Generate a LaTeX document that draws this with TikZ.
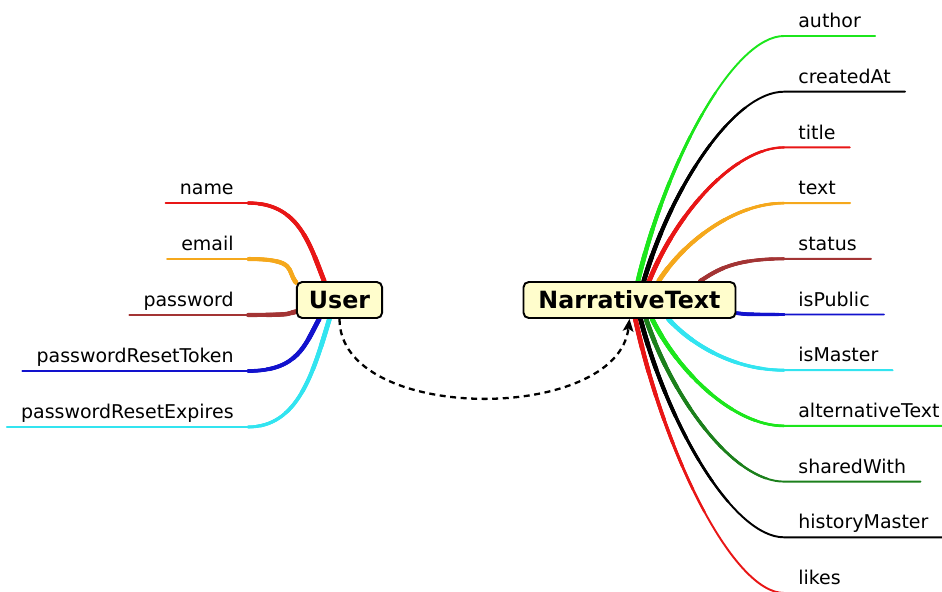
\documentclass[tikz,border=0pt]{standalone}
\usepackage{fontspec}
\setmainfont{DejaVu Sans}
\usetikzlibrary{arrows.meta,backgrounds,calc,positioning}
\definecolor{topicfill}{RGB}{255,253,204}
\definecolor{twigred}{RGB}{232,22,22}
\definecolor{twigorange}{RGB}{245,168,28}
\definecolor{twigbrown}{RGB}{163,52,52}
\definecolor{twigblue}{RGB}{18,18,205}
\definecolor{twigcyan}{RGB}{50,228,240}
\definecolor{twiggreen}{RGB}{28,230,28}
\definecolor{twigdkgreen}{RGB}{28,128,28}
\tikzset{
  topic/.style={draw=black,line width=1.1pt,fill=topicfill,rounded corners=3pt,
    font=\fontsize{13.5}{16}\selectfont\bfseries,inner xsep=0.3cm,minimum height=0.72cm},
  field/.style={font=\fontsize{10.8}{13}\selectfont,inner xsep=0.28cm,inner ysep=0pt,text depth=0.16cm},
  twig/.style={line width=1.1pt,line cap=round},
}
\begin{document}
\begin{tikzpicture}[x=0.02cm,y=-0.02cm,>=Stealth]
  \useasboundingbox (0,0) rectangle (942,591);

  % the two classes
  \node[topic,inner xsep=0.24cm] (user) at (339.5,300) {User};
  \node[topic] (narr) at (629.5,300) {NarrativeText};

  % fields of User (name/colour/where the twig leaves the box)
  \foreach \fname/\fcol/\ang [count=\i from 0] in {name/twigred/129,email/twigorange/158,
      password/twigbrown/195,passwordResetToken/twigblue/223,passwordResetExpires/twigcyan/242} {
    \pgfmathsetmacro{\fy}{203+56*\i}
    \node[field,anchor=south east] (u\i) at (248,\fy) {\fname};
    \coordinate (ue\i) at (user.\ang);
    \path let \p1=(ue\i), \p2=(u\i.south east) in
      ({\x1+0.2*(\x2-\x1)},{\y1+0.5*(\y2-\y1)}) coordinate (ua\i)
      ([xshift=1cm]u\i.south east) coordinate (ub\i);
    \begin{scope}[on background layer]
      \draw[twig,\fcol] (ue\i) .. controls (ua\i) and (ub\i) .. (u\i.south east) -- (u\i.south west);
      \foreach \k in {1,...,8} {
        \begin{scope}
          \clip (user.center) circle ({5cm-0.5cm*\k});
          \draw[twig,\fcol,line width=1.1pt+0.2pt*\k] (ue\i) .. controls (ua\i) and (ub\i) .. (u\i.south east);
        \end{scope}
      }
    \end{scope}
  }

  % fields of NarrativeText
  \foreach \fname/\fcol/\ang [count=\i from 0] in {author/twiggreen/66,createdAt/black/53,
      title/twigred/44,text/twigorange/33,status/twigbrown/15,isPublic/twigblue/-7,
      isMaster/twigcyan/-26,alternativeText/twiggreen/-40,sharedWith/twigdkgreen/-49,
      historyMaster/black/-60,likes/twigred/-73} {
    \pgfmathsetmacro{\fy}{36+55.7*\i}
    \node[field,anchor=south west] (n\i) at (784,\fy) {\fname};
    \coordinate (ne\i) at (narr.\ang);
    \path let \p1=(ne\i), \p2=(n\i.south west) in
      ({\x1+0.2*(\x2-\x1)},{\y1+0.5*(\y2-\y1)}) coordinate (na\i)
      ([xshift=-1cm]n\i.south west) coordinate (nb\i);
    \begin{scope}[on background layer]
      \draw[twig,\fcol] (ne\i) .. controls (na\i) and (nb\i) .. (n\i.south west) -- (n\i.south east);
      \foreach \k in {1,...,8} {
        \begin{scope}
          \clip (narr.center) circle ({5cm-0.5cm*\k});
          \draw[twig,\fcol,line width=1.1pt+0.2pt*\k] (ne\i) .. controls (na\i) and (nb\i) .. (n\i.south west);
        \end{scope}
      }
    \end{scope}
  }

  % reference
  \draw[line width=1.3pt,dash pattern=on 3.4pt off 2.6pt,-{Stealth[length=7pt,width=6pt,inset=1.5pt]}]
    (user.south) .. controls +(0,105) and +(-12,105) .. (narr.south);
\end{tikzpicture}
\end{document}
